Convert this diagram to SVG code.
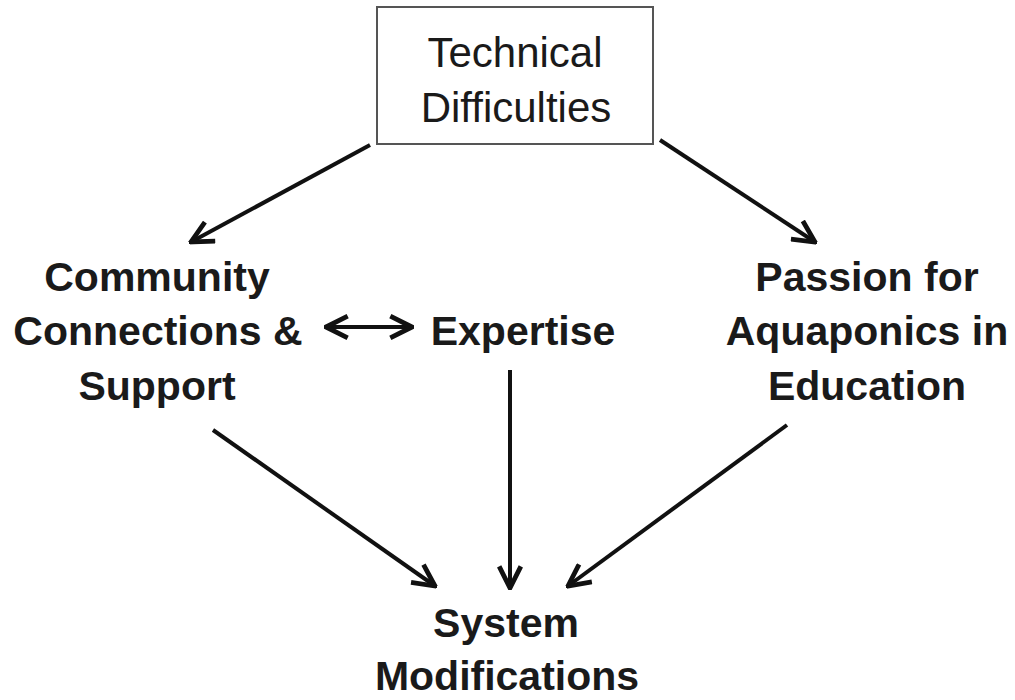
<svg xmlns="http://www.w3.org/2000/svg" width="1015" height="700" viewBox="0 0 1015 700">
<style>
.t{font-family:"Liberation Sans",Arial,sans-serif;fill:#1a1a1a;text-anchor:middle}
.r{font-size:42px}
.b{font-size:41px;font-weight:bold}
.c{stroke:#111;stroke-width:4;fill:none}
</style>
<defs>
<marker id="ah" viewBox="0 0 12 12" refX="11" refY="6" markerWidth="6.5" markerHeight="6.5" orient="auto-start-reverse" markerUnits="strokeWidth">
<path d="M1,1 L11,6 L1,11" fill="none" stroke="#111" stroke-width="2.2"/>
</marker>
</defs>
<rect width="1015" height="700" fill="#fff"/>
<g id="technical">
<rect x="377" y="7" width="276" height="137" fill="#fff" stroke="#555" stroke-width="2"/>
<text class="t r" x="515" y="67">Technical</text>
<text class="t r" x="516" y="122">Difficulties</text>
</g>
<g id="community">
<text class="t b" x="157" y="291">Community</text>
<text class="t b" x="158" y="345">Connections &amp;</text>
<text class="t b" x="157" y="400">Support</text>
</g>
<g id="expertise">
<text class="t b" x="523" y="345">Expertise</text>
</g>
<g id="passion">
<text class="t b" x="867" y="291">Passion for</text>
<text class="t b" x="867" y="345">Aquaponics in</text>
<text class="t b" x="867" y="400">Education</text>
</g>
<g id="system">
<text class="t b" x="506" y="637">System</text>
<text class="t b" x="507" y="690">Modifications</text>
</g>
<g id="connectors">
<line class="c" x1="370" y1="145" x2="191" y2="242" marker-end="url(#ah)"/>
<line class="c" x1="660" y1="140" x2="815" y2="242" marker-end="url(#ah)"/>
<line class="c" x1="326" y1="327" x2="412" y2="327" marker-start="url(#ah)" marker-end="url(#ah)"/>
<line class="c" x1="510" y1="370" x2="510" y2="588" marker-end="url(#ah)"/>
<line class="c" x1="213" y1="430" x2="435" y2="586" marker-end="url(#ah)"/>
<line class="c" x1="787" y1="425" x2="568" y2="586" marker-end="url(#ah)"/>
</g>
</svg>
